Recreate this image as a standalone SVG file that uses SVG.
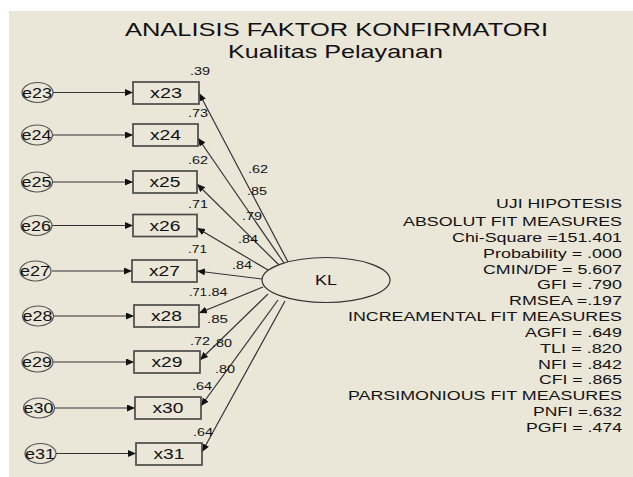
<svg xmlns="http://www.w3.org/2000/svg" width="633" height="477" viewBox="0 0 633 477">
<defs>
<marker id="ah" markerUnits="userSpaceOnUse" markerWidth="9" markerHeight="7" refX="8" refY="3.5" orient="auto">
<path d="M0,0 L8,3.5 L0,7 z" fill="#111"/>
</marker>
<style>
text{font-family:"Liberation Sans",Arial,sans-serif;fill:#111}
.title{font-size:18.5px}
.fit{font-size:12.5px;text-anchor:end}
.var{font-size:15px;text-anchor:middle}
.err{font-size:14px;text-anchor:middle}
.lab{font-size:11px}
.box{fill:none;stroke:#4a4a4a;stroke-width:1.7}
.eell{fill:none;stroke:#555;stroke-width:1.2}
.conn line{stroke:#333;stroke-width:1.2;marker-end:url(#ah)}
</style>
</defs>
<rect x="9" y="11" width="624" height="466" fill="#EAE6D8"/>
<g id="title">
<text class="title" x="125" y="36" textLength="423" lengthAdjust="spacingAndGlyphs">ANALISIS FAKTOR KONFIRMATORI</text>
<text class="title" x="228" y="58" textLength="215" lengthAdjust="spacingAndGlyphs">Kualitas Pelayanan</text>
</g>
<g id="connectors" class="conn">
<line x1="53" y1="92.5" x2="133" y2="92.5"/>
<line x1="53" y1="135" x2="133" y2="135"/>
<line x1="53" y1="182" x2="133" y2="182"/>
<line x1="52" y1="225.5" x2="133" y2="225.5"/>
<line x1="52" y1="271" x2="132" y2="271"/>
<line x1="54" y1="316" x2="134" y2="316"/>
<line x1="53" y1="362" x2="134" y2="362"/>
<line x1="55" y1="408" x2="135" y2="408"/>
<line x1="56" y1="453.5" x2="136" y2="453.5"/>
<line x1="288" y1="262" x2="199" y2="93"/>
<line x1="284" y1="263" x2="198" y2="138"/>
<line x1="279" y1="265" x2="197" y2="184"/>
<line x1="268" y1="270" x2="197" y2="228"/>
<line x1="262" y1="279" x2="197" y2="271"/>
<line x1="263" y1="287" x2="199" y2="313"/>
<line x1="268" y1="294" x2="200" y2="360"/>
<line x1="278" y1="300" x2="201" y2="406"/>
<line x1="285" y1="301" x2="202" y2="452"/>
</g>
<g id="KL"><ellipse cx="326" cy="280" rx="64" ry="22.5" fill="#EAE6D8" stroke="#333" stroke-width="1.2"/><text x="326" y="285" font-size="15" text-anchor="middle" textLength="22" lengthAdjust="spacingAndGlyphs">KL</text></g>
<g id="x23"><rect class="box" x="133" y="82" width="66" height="22"/><text class="var" x="166" y="97.5" textLength="32" lengthAdjust="spacingAndGlyphs">x23</text></g>
<g id="x24"><rect class="box" x="133" y="124" width="65" height="22"/><text class="var" x="165.5" y="140" textLength="31" lengthAdjust="spacingAndGlyphs">x24</text></g>
<g id="x25"><rect class="box" x="133" y="171" width="64" height="22"/><text class="var" x="165" y="187" textLength="31" lengthAdjust="spacingAndGlyphs">x25</text></g>
<g id="x26"><rect class="box" x="133" y="214.5" width="64" height="22"/><text class="var" x="165" y="230.5" textLength="31" lengthAdjust="spacingAndGlyphs">x26</text></g>
<g id="x27"><rect class="box" x="132" y="260" width="65" height="22"/><text class="var" x="164.5" y="276" textLength="31" lengthAdjust="spacingAndGlyphs">x27</text></g>
<g id="x28"><rect class="box" x="134" y="305" width="65" height="22"/><text class="var" x="166.5" y="321" textLength="31" lengthAdjust="spacingAndGlyphs">x28</text></g>
<g id="x29"><rect class="box" x="134" y="351" width="66" height="22"/><text class="var" x="167" y="367" textLength="31" lengthAdjust="spacingAndGlyphs">x29</text></g>
<g id="x30"><rect class="box" x="135" y="397" width="66" height="22"/><text class="var" x="168" y="413" textLength="31" lengthAdjust="spacingAndGlyphs">x30</text></g>
<g id="x31"><rect class="box" x="136" y="443" width="66" height="22"/><text class="var" x="169" y="459" textLength="31" lengthAdjust="spacingAndGlyphs">x31</text></g>
<g id="e23"><ellipse class="eell" cx="37.5" cy="92.5" rx="15.5" ry="10"/><text class="err" x="37" y="97.5" textLength="30" lengthAdjust="spacingAndGlyphs">e23</text></g>
<g id="e24"><ellipse class="eell" cx="37" cy="135" rx="15.5" ry="10"/><text class="err" x="36.5" y="140" textLength="30" lengthAdjust="spacingAndGlyphs">e24</text></g>
<g id="e25"><ellipse class="eell" cx="37" cy="182" rx="15.5" ry="10"/><text class="err" x="36.5" y="187" textLength="30" lengthAdjust="spacingAndGlyphs">e25</text></g>
<g id="e26"><ellipse class="eell" cx="36.5" cy="225.5" rx="15.5" ry="10"/><text class="err" x="36" y="230.5" textLength="30" lengthAdjust="spacingAndGlyphs">e26</text></g>
<g id="e27"><ellipse class="eell" cx="35.5" cy="271" rx="15.5" ry="10"/><text class="err" x="35" y="276" textLength="30" lengthAdjust="spacingAndGlyphs">e27</text></g>
<g id="e28"><ellipse class="eell" cx="38" cy="316" rx="15.5" ry="10"/><text class="err" x="37.5" y="321" textLength="30" lengthAdjust="spacingAndGlyphs">e28</text></g>
<g id="e29"><ellipse class="eell" cx="37.5" cy="362" rx="15.5" ry="10"/><text class="err" x="37" y="367" textLength="30" lengthAdjust="spacingAndGlyphs">e29</text></g>
<g id="e30"><ellipse class="eell" cx="39" cy="408" rx="15.5" ry="10"/><text class="err" x="38.5" y="413" textLength="30" lengthAdjust="spacingAndGlyphs">e30</text></g>
<g id="e31"><ellipse class="eell" cx="40.5" cy="453.5" rx="15.5" ry="10"/><text class="err" x="40" y="458.5" textLength="30" lengthAdjust="spacingAndGlyphs">e31</text></g>
<g id="r2-labels">
<text class="lab" x="190" y="75" textLength="20" lengthAdjust="spacingAndGlyphs">.39</text>
<text class="lab" x="188" y="117" textLength="20" lengthAdjust="spacingAndGlyphs">.73</text>
<text class="lab" x="188" y="164" textLength="20" lengthAdjust="spacingAndGlyphs">.62</text>
<text class="lab" x="188" y="208" textLength="20" lengthAdjust="spacingAndGlyphs">.71</text>
<text class="lab" x="188" y="253" textLength="19" lengthAdjust="spacingAndGlyphs">.71</text>
<text class="lab" x="189" y="296" textLength="18" lengthAdjust="spacingAndGlyphs">.71</text>
<text class="lab" x="190" y="345" textLength="20" lengthAdjust="spacingAndGlyphs">.72</text>
<text class="lab" x="192" y="390" textLength="20" lengthAdjust="spacingAndGlyphs">.64</text>
<text class="lab" x="193" y="436" textLength="20" lengthAdjust="spacingAndGlyphs">.64</text>
</g>
<g id="loading-labels">
<text class="lab" x="248" y="173" textLength="20" lengthAdjust="spacingAndGlyphs">.62</text>
<text class="lab" x="247" y="195" textLength="20" lengthAdjust="spacingAndGlyphs">.85</text>
<text class="lab" x="242" y="220" textLength="20" lengthAdjust="spacingAndGlyphs">.79</text>
<text class="lab" x="238" y="243" textLength="20" lengthAdjust="spacingAndGlyphs">.84</text>
<text class="lab" x="232" y="269" textLength="20" lengthAdjust="spacingAndGlyphs">.84</text>
<text class="lab" x="207.5" y="296" textLength="20" lengthAdjust="spacingAndGlyphs">.84</text>
<text class="lab" x="207" y="323" textLength="21" lengthAdjust="spacingAndGlyphs">.85</text>
<text class="lab" x="212" y="347" textLength="20" lengthAdjust="spacingAndGlyphs">.80</text>
<text class="lab" x="215" y="373" textLength="20" lengthAdjust="spacingAndGlyphs">.80</text>
</g>
<g id="fit-measures">
<text class="fit" x="622" y="208" textLength="126" lengthAdjust="spacingAndGlyphs">UJI HIPOTESIS</text>
<text class="fit" x="622" y="226" textLength="219" lengthAdjust="spacingAndGlyphs">ABSOLUT FIT MEASURES</text>
<text class="fit" x="622" y="241.5" textLength="170" lengthAdjust="spacingAndGlyphs">Chi-Square =151.401</text>
<text class="fit" x="622" y="257.5" textLength="139" lengthAdjust="spacingAndGlyphs">Probability = .000</text>
<text class="fit" x="622" y="273.5" textLength="139" lengthAdjust="spacingAndGlyphs">CMIN/DF = 5.607</text>
<text class="fit" x="622" y="289" textLength="85" lengthAdjust="spacingAndGlyphs">GFI = .790</text>
<text class="fit" x="622" y="305" textLength="113" lengthAdjust="spacingAndGlyphs">RMSEA =.197</text>
<text class="fit" x="622" y="321" textLength="274" lengthAdjust="spacingAndGlyphs">INCREAMENTAL FIT MEASURES</text>
<text class="fit" x="622" y="336.5" textLength="97" lengthAdjust="spacingAndGlyphs">AGFI = .649</text>
<text class="fit" x="622" y="352.5" textLength="82" lengthAdjust="spacingAndGlyphs">TLI = .820</text>
<text class="fit" x="622" y="368.5" textLength="84" lengthAdjust="spacingAndGlyphs">NFI = .842</text>
<text class="fit" x="622" y="384" textLength="83" lengthAdjust="spacingAndGlyphs">CFI = .865</text>
<text class="fit" x="622" y="400" textLength="274" lengthAdjust="spacingAndGlyphs">PARSIMONIOUS FIT MEASURES</text>
<text class="fit" x="622" y="416" textLength="89" lengthAdjust="spacingAndGlyphs">PNFI =.632</text>
<text class="fit" x="622" y="431.5" textLength="96" lengthAdjust="spacingAndGlyphs">PGFI = .474</text>
</g>
</svg>
